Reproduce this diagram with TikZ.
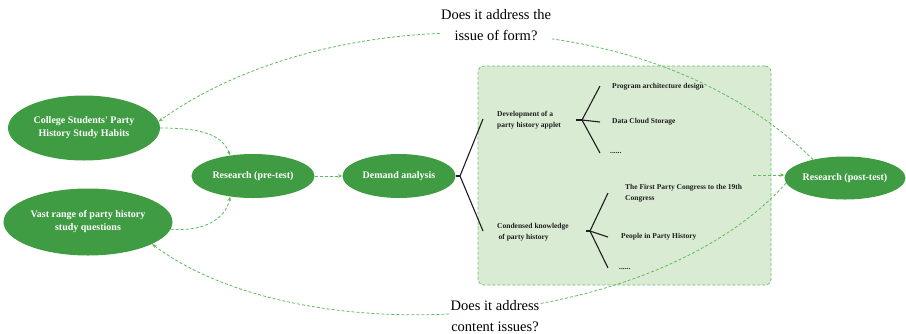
\documentclass[tikz,border=0pt]{standalone}
\usepackage{fontspec}
\setmainfont{Liberation Serif}
\usetikzlibrary{shapes.geometric,arrows.meta}
\definecolor{ellgreen}{HTML}{3F9C43}
\definecolor{boxfill}{HTML}{DAEBD4}
\definecolor{boxline}{HTML}{6CBF6C}
\definecolor{dashgreen}{HTML}{5DBB5D}
\definecolor{treeink}{HTML}{1E1E1E}
\begin{document}
\begin{tikzpicture}[x=1pt,y=-1pt,
  ell/.style={ellipse, fill=ellgreen, text=white, font=\fontsize{10}{13}\selectfont\bfseries, inner sep=0pt, align=center},
  flow/.style={draw=dashgreen, line width=0.8pt, dash pattern=on 3pt off 2pt, -{Stealth[length=4.5pt,width=3.5pt]}},
  tree/.style={draw=treeink, line width=1.1pt},
  item/.style={anchor=west, font=\fontsize{7.5}{11}\selectfont\bfseries, text=treeink, inner sep=0pt, align=left},
  question/.style={font=\fontsize{14.5}{21}\selectfont, fill=white, inner sep=1pt, align=center},
  groupbox/.style={draw=boxline, fill=boxfill, dash pattern=on 3pt off 2pt, line width=0.8pt, rounded corners=6pt, inner sep=0pt}]

\useasboundingbox (0,0) rectangle (906,333);

% group box
\node[groupbox, minimum width=293pt, minimum height=219pt] (box) at (624.5,175.5) {};

% ellipses
\node[ell, minimum width=152pt, minimum height=65pt] (ell1) at (84,128) {College Students\textquotesingle{} Party\\History Study Habits};
\node[ell, minimum width=169pt, minimum height=67pt] (ell2) at (88,222) {Vast range of party history\\study questions};
\node[ell, minimum width=123pt, minimum height=44pt] (pre) at (253,176) {Research (pre-test)};
\node[ell, minimum width=113pt, minimum height=44pt] (dem) at (399,176) {Demand analysis};
\node[ell, minimum width=121pt, minimum height=43pt] (post) at (845,178) {Research (post-test)};

% tree from demand analysis
\coordinate (j0) at (460,176);
\coordinate (a1) at (483,119);
\coordinate (a2) at (483,231);
\draw[tree] (dem.east) -- (j0);
\draw[tree] (j0) -- (a1);
\draw[tree] (j0) -- (a2);

\node[item] (dev) at (497,120) {Development of a\\party history applet};
\node[item] (con) at (497,232) {Condensed knowledge\\\hspace*{1.5pt}of party history};

% upper sub-tree
\coordinate (h1) at (576,120);
\coordinate (j1) at (582,120);
\coordinate (b1) at (600,86);
\coordinate (b2) at (600,122);
\coordinate (b3) at (600,153);
\draw[tree] (h1) -- (j1);
\draw[tree] (j1) -- (b1);
\draw[tree] (j1) -- (b2);
\draw[tree] (j1) -- (b3);
\node[item] (p1) at (612,87) {Program architecture design};
\node[item] (p2) at (612,122) {Data Cloud Storage};
\node[item] (p3) at (610,153) {......};

% lower sub-tree
\coordinate (h2) at (586,231);
\coordinate (j2) at (590,231);
\coordinate (c1) at (608,193);
\coordinate (c2) at (608,237);
\coordinate (c3) at (608,268);
\draw[tree] (h2) -- (j2);
\draw[tree] (j2) -- (c1);
\draw[tree] (j2) -- (c2);
\draw[tree] (j2) -- (c3);
\node[item] (q1) at (625,193) {The First Party Congress to the 19th\\Congress};
\node[item] (q2) at (621,237) {People in Party History};
\node[item] (q3) at (619,269) {......};

% flows
\draw[flow] (ell1.east) .. controls (200,128) and (222,134) .. (pre.138);
\draw[flow] (ell2.-5) .. controls (205,232) and (226,218) .. (pre.222);
\draw[flow] (pre.east) -- (dem.west);
\coordinate (src) at (753,175);
\draw[flow] (src) -- (src -| post.west);

% feedback arcs
\draw[flow] (post.150) .. controls (640,-10) and (320,5) .. (ell1.5);
\draw[flow] (post.185) .. controls (650,335) and (300,355) .. (ell2.-19);

% questions
\node[question] (qform) at (496,25) {Does it address the\\issue of form?};
\node[question] (qcont) at (495,316) {Does it address\\content issues?};
\end{tikzpicture}
\end{document}
